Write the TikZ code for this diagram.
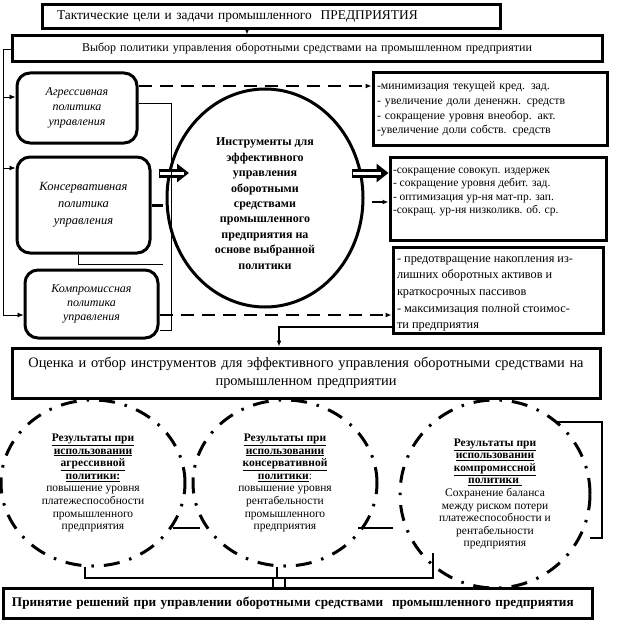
\documentclass[tikz,border=0pt]{standalone}
\usepackage{fontspec}
\setmainfont{Liberation Serif}
\usetikzlibrary{arrows.meta,shapes.geometric}
\newcommand\fsz[2]{\fontsize{#1}{#2}\selectfont}
\begin{document}
\begin{tikzpicture}[x=1pt,y=-1pt,
  box/.style={draw, line width=3pt, inner sep=0pt, align=center, fill=white},
  rbox/.style={draw, line width=3pt, rounded corners=13pt, inner sep=0pt, align=center, font=\itshape\fsz{12}{15}},
  arr/.style={-{Latex[length=6pt,width=5pt]}},
  thinl/.style={line width=0.8pt},
  dsh/.style={line width=2.5pt, dash pattern=on 13pt off 8pt},
  dd/.style={draw, ellipse, line width=3pt, dash pattern=on 16pt off 10pt on 2.5pt off 10pt, inner sep=0pt, align=center, font=\fsz{11.5}{12.6}},
  hollow/.style={line width=9pt, -{Triangle[length=12pt,width=18pt]}},
  conn/.style={line width=2pt},
]
\useasboundingbox (0,0) rectangle (616,623);

% top boxes
\node[box, minimum width=458pt, minimum height=24pt, text width=428pt, align=left, font=\fsz{13.4}{15}] (tact) at (271,17) {Тактические цели и задачи промышленного\ \ ПРЕДПРИЯТИЯ};
\node[box, minimum width=590pt, minimum height=26pt, text width=590pt, font=\fsz{12}{14}] (choice) at (307,49) {Выбор политики управления оборотными средствами на промышленном предприятии};
\draw[arr, line width=1pt] (247,0 |- tact.south) -- (247,0 |- choice.north);

% policy boxes
\node[rbox, minimum width=120pt, minimum height=70pt] (aggr) at (77,108) {Агрессивная\\политика\\управления};
\node[rbox, minimum width=133pt, minimum height=96pt, font=\itshape\fsz{12.5}{17}] (cons) at (83.5,205) {Консервативная\\политика\\управления};
\node[rbox, minimum width=133pt, minimum height=68pt, font=\itshape\fsz{12}{14}] (comp) at (91.5,304) {Компромиссная\\политика\\управления};

% left bracket
\coordinate (lb) at (3,49);
\coordinate (lbe) at (3,315);
\draw[thinl] (choice.west) -- (lb) -- (lbe);
\draw[thinl, arr] (3,97) -- (aggr.west |- 0,97);
\draw[thinl, arr] (3,168) -- (cons.west |- 0,168);
\draw[thinl, arr] (lbe) -- (comp.west |- lbe);

% central ellipse
\node[draw, ellipse, line width=3pt, minimum width=196pt, minimum height=218pt, inner sep=0pt, align=center, font=\bfseries\fsz{12}{15.4}] (tools) at (265,198) {\rule{0pt}{19pt}Инструменты для\\эффективного\\управления\\оборотными\\средствами\\промышленного\\предприятия на\\основе выбранной\\политики};

% right boxes
\node[box, minimum width=234pt, minimum height=72pt, text width=226pt, align=left, font=\fsz{11.8}{14.7}] (r1) at (490,109) {-минимизация текущей кред. зад.\\- увеличение доли дененжн. средств\\- сокращение уровня внеобор. акт.\\-увеличение доли собств. средств};
\node[box, inner xsep=3pt, font=\fsz{11.5}{13.5}] (r2) at (498,198.5) {\parbox[c][83pt][t]{210pt}{\raggedright\rule{0pt}{16pt}-сокращение совокуп. издержек\\- сокращение уровня дебит. зад.\\- оптимизация ур-ня мат-пр. зап.\\-сокращ. ур-ня низколикв. об. ср.}};
\node[box, inner xsep=4pt, font=\fsz{12.3}{16.7}] (r3) at (498,290) {\parbox[c][86pt][t]{202pt}{\raggedright\rule{0pt}{15pt}- предотвращение накопления из-\\лишних оборотных активов и\\краткосрочных пассивов\\- максимизация полной стоимос-\\ти предприятия}};

% hollow arrows
\coordinate (ha1s) at (159,173);
\coordinate (ha1e) at (189,173);
\draw[hollow] (ha1s) -- (ha1e);
\draw[white, line width=3pt] (160,173) -- (184,173);
\coordinate (ha2s) at (352,173);
\draw[hollow] (ha2s) -- (r2.west |- ha2s);
\draw[white, line width=3pt] (353,173) -- (381,173);

% small connectors around ellipse
\coordinate (sa) at (372,202);
\draw[arr, line width=1.5pt] (sa) -- (r2.west |- sa);
\coordinate (stub) at (163,205);
\draw[line width=3pt] (cons.east |- stub) -- (stub);
\draw[thinl] (aggr.east |- 0,103) -- (171,103) -- (171,330) -- (comp.east |- 0,330);
\coordinate (cb) at (163,264);
\draw[thinl] (78,0 |- cons.south) -- (78,264) -- (cb);

% dashed
\draw[dsh, arr] (aggr.east |- 0,86) -- (r1.west |- 0,86);
\draw[dsh, arr] (comp.east |- 0,315) -- (r3.west |- 0,315);

% evaluation box
\node[box, minimum width=588pt, minimum height=50pt, text width=586pt, font=\fsz{14.4}{18}] (eval) at (306,373) {Оценка и отбор инструментов для эффективного управления оборотными средствами на\\промышленном предприятии};
\draw[line width=2.5pt, arr] (r3.west |- 0,327) -- (279,327) -- (279,0 |- eval.north);

% result circles
\node[dd, minimum width=184pt, minimum height=166pt] (c1) at (93,483) {\underline{\textbf{Результаты при}}\\\underline{\textbf{использовании}}\\\underline{\textbf{агрессивной}}\\\underline{\textbf{политики:}}\\повышение уровня\\платежеспособности\\промышленного\\предприятия};
\node[dd, minimum width=184pt, minimum height=166pt] (c2) at (285,483) {\underline{\textbf{Результаты при}}\\\underline{\textbf{использовании}}\\\underline{\textbf{консервативной}}\\\underline{\textbf{политики}}:\\повышение уровня\\рентабельности\\промышленного\\предприятия};
\node[dd, minimum width=190pt, minimum height=188pt] (c3) at (495,494) {\underline{\textbf{Результаты при}}\\\underline{\textbf{использовании}}\\\underline{\textbf{компромиссной}}\\\underline{\textbf{политики\ }}\\Сохранение баланса\\между риском потери\\платежеспособности и\\рентабельности\\предприятия};

\draw[conn] (173,528) -- (200,528);
\draw[conn] (358,528) -- (393,528);
\draw[conn] (557,422) -- (602,422) -- (602,538) -- (590,538);

% bottom
\node[box, minimum width=589pt, minimum height=30pt, text width=571pt, align=left, font=\bfseries\fsz{13.2}{14}] (dec) at (297.5,603) {Принятие решений при управлении оборотными средствами\ \ промышленного предприятия};
\draw[conn] (85,567) -- (85,578) -- (433,578) -- (433,553);
\draw[conn] (277,567) -- (277,578);
\draw[conn] (273,578) -- (273,0 |- dec.north);
\draw[conn] (285,578) -- (285,0 |- dec.north);
\end{tikzpicture}
\end{document}
